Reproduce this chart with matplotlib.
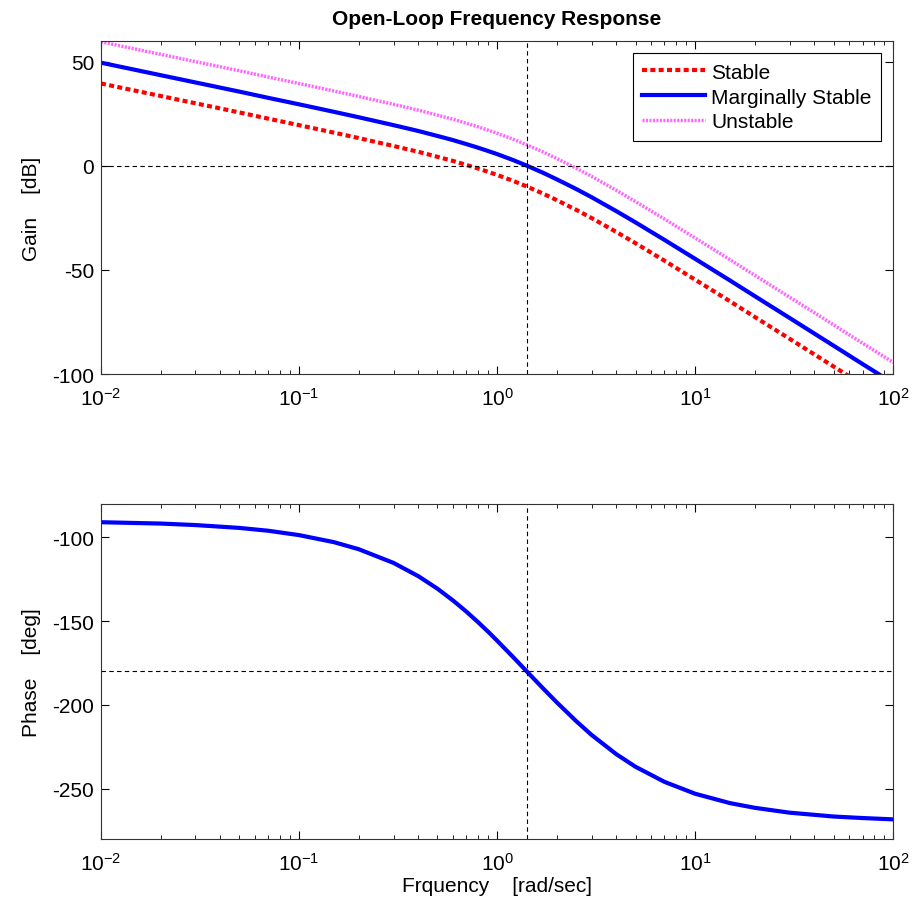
import numpy as np
import matplotlib
matplotlib.use('Agg')
import matplotlib.pyplot as plt

plt.rcParams['font.family'] = ['Liberation Sans', 'DejaVu Sans']
plt.rcParams['axes.unicode_minus'] = False

freq = [0.01, 0.02, 0.03, 0.05, 0.07, 0.1, 0.15, 0.2, 0.3, 0.4, 0.5, 0.6, 0.7, 0.8,
        0.9, 1.0, 1.2, 1.4, 1.7, 2.0, 2.5, 3.0, 4.0, 5.0, 7.0, 10.0, 15.0, 20.0,
        30.0, 50.0, 70.0, 100.0]

gain_marginal = [49.5, 43.5, 40.0, 35.6, 32.6, 29.5, 25.9, 23.3, 19.5, 16.7, 14.3, 12.3,
                 10.4, 8.7, 7.1, 5.6, 2.8, 0.2, -3.3, -6.5, -11.1, -15.1, -21.8, -27.2,
                 -35.6, -44.7, -55.1, -62.6, -73.1, -86.4, -95.2, -104.4]
gain_stable = [39.5, 33.5, 30.0, 25.6, 22.6, 19.5, 15.9, 13.3, 9.5, 6.7, 4.3, 2.3,
               0.4, -1.3, -2.9, -4.4, -7.2, -9.8, -13.3, -16.5, -21.1, -25.1, -31.8, -37.2,
               -45.6, -54.7, -65.1, -72.6, -83.1, -96.4, -105.2, -114.4]
gain_unstable = [59.5, 53.5, 50.0, 45.6, 42.6, 39.5, 35.9, 33.3, 29.5, 26.7, 24.3, 22.3,
                 20.4, 18.7, 17.1, 15.6, 12.8, 10.2, 6.7, 3.5, -1.1, -5.1, -11.8, -17.2,
                 -25.6, -34.7, -45.1, -52.6, -63.1, -76.4, -85.2, -94.4]

phase = [-90.9, -91.7, -92.6, -94.3, -96.0, -98.6, -102.8, -107.0, -115.2, -123.1, -130.6,
         -137.7, -144.3, -150.5, -156.2, -161.6, -171.2, -179.5, -189.9, -198.4, -209.5,
         -217.9, -229.4, -236.9, -245.9, -253.0, -258.6, -261.4, -264.3, -266.6, -267.5,
         -268.3]

w_cross = 1.414   # phase crossover frequency
gain_ref = 0
phase_ref = -180

fs = 15

fig = plt.figure(figsize=(9.18, 9.03), dpi=100)
ax1 = fig.add_axes([0.110, 0.5847, 0.863, 0.369])
ax2 = fig.add_axes([0.110, 0.0698, 0.863, 0.371])

ax1.semilogx(freq, gain_stable, color='red', ls=(0, (1.2, 0.8)), lw=3, label='Stable')
ax1.semilogx(freq, gain_marginal, color='blue', lw=3, label='Marginally Stable')
ax1.semilogx(freq, gain_unstable, color='#ff66ff', ls=(0, (0.6, 0.4)), lw=2.5, label='Unstable')
ax1.axhline(gain_ref, color='black', ls='--', lw=0.8, dashes=(4, 3))
ax1.axvline(w_cross, color='black', ls='--', lw=0.8, dashes=(4, 3))
ax1.set_xlim(0.01, 100)
ax1.set_ylim(-100, 60)
ax1.set_yticks([-100, -50, 0, 50])
ax1.set_ylabel('Gain    [dB]', fontsize=fs, labelpad=8)
ax1.set_title('Open-Loop Frequency Response', fontsize=fs, fontweight='bold', pad=12)
leg = ax1.legend(loc='upper right', fontsize=fs, fancybox=False, framealpha=1,
                 edgecolor='black', handlelength=3.0, borderpad=0.45, labelspacing=0.28,
                 handletextpad=0.3, borderaxespad=0.6)
leg.get_frame().set_linewidth(0.8)

ax2.semilogx(freq, phase, color='blue', lw=3)
ax2.axhline(phase_ref, color='black', ls='--', lw=0.8, dashes=(4, 3))
ax2.axvline(w_cross, color='black', ls='--', lw=0.8, dashes=(4, 3))
ax2.set_xlim(0.01, 100)
ax2.set_ylim(-280, -80)
ax2.set_yticks([-250, -200, -150, -100])
ax2.set_ylabel('Phase    [deg]', fontsize=fs, labelpad=8)
ax2.set_xlabel('Frquency    [rad/sec]', fontsize=fs, labelpad=2)

for ax in (ax1, ax2):
    ax.tick_params(which='both', direction='in', top=True, right=True, labelsize=fs)
    ax.tick_params(axis='x', pad=9)
    ax.tick_params(axis='y', pad=5)
    ax.tick_params(which='major', length=6)
    ax.tick_params(which='minor', length=3)
    for s in ax.spines.values():
        s.set_linewidth(0.8)
        s.set_color('#333333')

fig.savefig('out.png', dpi=100)
